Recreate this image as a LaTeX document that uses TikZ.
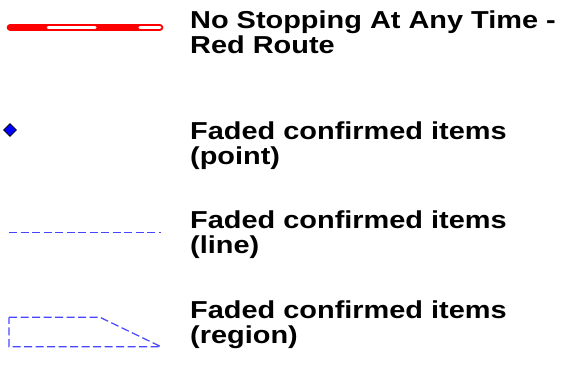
\documentclass[tikz,border=0pt]{standalone}
\usepackage{fontspec}
\setmainfont{Liberation Sans}[FakeStretch=1.18]
\begin{document}
\begin{tikzpicture}[x=1pt,y=-1pt,
  legtext/.style={anchor=base west,align=left,inner sep=0pt,font=\fontsize{24.5}{25}\selectfont\bfseries},
  fadeline/.style={draw={rgb,255:red,70;green,70;blue,255},line width=1.2pt,dash pattern=on 8pt off 3.5pt},
  redroute/.style={draw={rgb,255:red,255;green,0;blue,0},line width=7pt,line cap=round},
  redinner/.style={draw=white,line width=3pt,line cap=round}]
\useasboundingbox (0,0) rectangle (565,378);
% red route
\draw[redroute] (10.2,27.5) -- (159.8,27.5);
\draw[redinner] (48.2,27.5) -- (95.2,27.5) (139.8,27.5) -- (160,27.5);
\node[legtext] (t1) at (190,53.5) {No Stopping At Any Time -\\Red Route};
% point
\node[draw=black,fill={rgb,255:red,0;green,0;blue,255},shape=rectangle,rotate=45,minimum size=9pt,inner sep=0pt,line width=0.6pt] (pt) at (10,130) {};
\node[legtext] (t2) at (190,164) {Faded confirmed items\\(point)};
% line
\draw[fadeline] (9,232.7) -- (161,232.7);
\node[legtext] (t3) at (190,253.5) {Faded confirmed items\\(line)};
% region
\draw[fadeline] (9,317.3) -- (100,317.3) -- (161,346.7) -- (9,346.7) -- cycle;
\node[legtext] (t4) at (190,343) {Faded confirmed items\\(region)};
\end{tikzpicture}
\end{document}
